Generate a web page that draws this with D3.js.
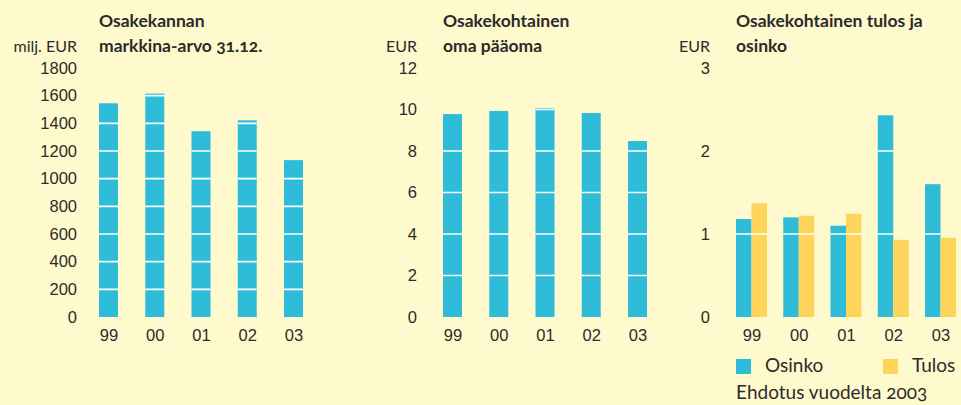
<!DOCTYPE html>
<html>
<head>
<meta charset="utf-8">
<script src="https://cdn.jsdelivr.net/npm/d3@7/dist/d3.min.js"></script>
<style>
  html, body { margin: 0; padding: 0; background: #fffacd; }
  svg { display: block; font-family: Lato, "Open Sans", sans-serif; }
  text { fill: #2b2b2b; font-variant-numeric: oldstyle-nums; }
  .title { font-weight: 700; font-size: 17.5px; }
  .unit { font-size: 16px; }
  .tick-label { font-size: 16.5px; }
  .legend { font-size: 19px; }
</style>
</head>
<body>
<svg id="chart" width="961" height="405"></svg>
<script>
// Three small panels side by side, all sharing the same baseline.
const years = ['99', '00', '01', '02', '03'];

const marketValue = [1545, 1615, 1343, 1422, 1134];   // milj. EUR
const equityPerShare = [9.78, 9.93, 10.06, 9.83, 8.48]; // EUR
const dividend = [1.18, 1.20, 1.10, 2.43, 1.60];      // Osinko, EUR
const earnings = [1.37, 1.22, 1.245, 0.93, 0.955];    // Tulos, EUR

const ticks1 = [0, 200, 400, 600, 800, 1000, 1200, 1400, 1600, 1800];
const ticks2 = [0, 2, 4, 6, 8, 10, 12];
const ticks3 = [0, 1, 2, 3];

const seriesNames = ['Osinko', 'Tulos'];
const note = 'Ehdotus vuodelta 2003';

const BLUE = '#2ebcd9';
const YELLOW = '#ffd45a';
const BASE = 317, TOP = 68;

const svg = d3.select('#chart');

let clipId = 0;

function panel({ title, unit, ticks, max, labelRight, xRange, series, colors, barW }) {
  const g = svg.append('g');
  const y = d3.scaleLinear().domain([0, max]).range([BASE, TOP]);
  const x = d3.scalePoint().domain(years).range(xRange);

  // title, two lines
  const t = g.append('text').attr('class', 'title').attr('x', xRange[0] - (series.length === 1 ? barW / 2 : barW));
  title.forEach((line, i) => t.append('tspan').attr('x', t.attr('x')).attr('y', 27 + i * 25).text(line));

  g.append('text').attr('class', 'unit')
    .attr('x', labelRight).attr('y', 52).attr('text-anchor', 'end').text(unit);

  // y axis: labels only
  const yAxis = g.append('g').attr('transform', `translate(${labelRight},0)`)
    .call(d3.axisLeft(y).tickValues(ticks).tickFormat(d3.format('d')).tickSize(0).tickPadding(0));
  yAxis.select('.domain').remove();
  yAxis.selectAll('text').attr('class', 'tick-label').attr('font-size', null)
    .attr('font-family', null).attr('fill', '#2b2b2b');

  // x axis labels
  const xAxis = g.append('g').attr('transform', `translate(0,${BASE})`)
    .call(d3.axisBottom(x).tickSize(0).tickPadding(0));
  xAxis.select('.domain').remove();
  xAxis.selectAll('text').attr('class', 'tick-label').attr('font-size', null)
    .attr('font-family', null).attr('fill', '#2b2b2b').attr('dy', null).attr('y', 24);

  // bars
  const id = 'clip' + (clipId++);
  const clip = g.append('clipPath').attr('id', id);
  const n = series.length;
  series.forEach((vals, si) => {
    const off = (si - n / 2) * barW;
    const rects = years.map((yr, i) => ({ x: x(yr) + off, v: vals[i] }));
    g.append('g').selectAll('rect').data(rects).join('rect')
      .attr('x', d => d.x).attr('width', barW)
      .attr('y', d => y(d.v)).attr('height', d => BASE - y(d.v))
      .attr('fill', colors[si]);
    clip.selectAll(null).data(rects).join('rect')
      .attr('x', d => d.x).attr('width', barW)
      .attr('y', d => y(d.v)).attr('height', d => BASE - y(d.v));
  });

  // white gridlines, only visible on the bars
  g.append('g').attr('clip-path', `url(#${id})`)
    .selectAll('line').data(ticks.filter(d => d > 0)).join('line')
    .attr('x1', xRange[0] - 40).attr('x2', xRange[1] + 40)
    .attr('y1', d => y(d)).attr('y2', d => y(d))
    .attr('stroke', '#fff').attr('stroke-width', 1.6);
}

panel({
  title: ['Osakekannan', 'markkina-arvo 31.12.'], unit: 'milj. EUR',
  ticks: ticks1, max: 1800, labelRight: 77, xRange: [108.5, 293.5],
  series: [marketValue], colors: [BLUE], barW: 19
});

panel({
  title: ['Osakekohtainen', 'oma pääoma'], unit: 'EUR',
  ticks: ticks2, max: 12, labelRight: 417, xRange: [452.5, 637.5],
  series: [equityPerShare], colors: [BLUE], barW: 19
});

panel({
  title: ['Osakekohtainen tulos ja', 'osinko'], unit: 'EUR',
  ticks: ticks3, max: 3, labelRight: 710, xRange: [751.5, 940.5],
  series: [dividend, earnings], colors: [BLUE, YELLOW], barW: 15.5
});

// legend
const lg = svg.append('g');
const legendX = [736, 883];
seriesNames.forEach((name, i) => {
  lg.append('rect').attr('x', legendX[i]).attr('y', 359).attr('width', 15).attr('height', 15)
    .attr('fill', [BLUE, YELLOW][i]);
  lg.append('text').attr('class', 'legend').attr('x', legendX[i] + 29).attr('y', 372).text(name);
});
lg.append('text').attr('class', 'legend').attr('x', 736).attr('y', 399).text(note);
</script>
</body>
</html>
